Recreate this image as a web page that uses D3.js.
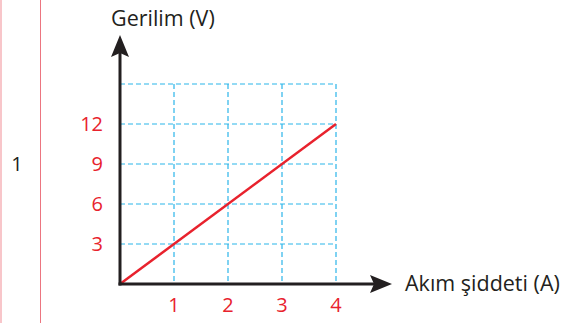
<!DOCTYPE html>
<html><head><meta charset="utf-8">
<script src="https://cdn.jsdelivr.net/npm/d3@7"></script>
<style>body{margin:0;background:#fff;}svg{display:block;font-family:"Open Sans",sans-serif;}</style>
</head><body>
<svg id="c" width="580" height="323"></svg>
<script>
const current = [0, 4];          // A
const voltage = [0, 12];         // V
const xTicks = [1, 2, 3, 4];
const yTicks = [3, 6, 9, 12];
const xGrid = [0, 1, 2, 3, 4];
const yGrid = [0, 3, 6, 9, 12, 15];
const xTitle = "Akım şiddeti (A)";
const yTitle = "Gerilim (V)";
const rowLabel = "1";

const svg = d3.select("#c");
const x = d3.scaleLinear().domain([0, 4]).range([120, 336]);
const y = d3.scaleLinear().domain([0, 15]).range([284, 84]);
const red = "#e8222d", blue = "#2bb5ea";

// page decoration
svg.append("line").attr("x1",1).attr("x2",1).attr("y1",0).attr("y2",323).attr("stroke","#f6b3b8").attr("stroke-width",1.5);
svg.append("line").attr("x1",40.5).attr("x2",40.5).attr("y1",0).attr("y2",323).attr("stroke","#ec7580").attr("stroke-width",1);
svg.append("text").attr("x",17).attr("y",164).attr("dy","0.36em").attr("text-anchor","middle").attr("font-size",20).attr("fill","#231f20").text(rowLabel);

// grid
const g = svg.append("g");
g.selectAll(".vg").data(xGrid).join("line")
  .attr("x1",d=>x(d)).attr("x2",d=>x(d)).attr("y1",y(15)).attr("y2",y(0))
  .attr("stroke",blue).attr("stroke-width",1.2).attr("stroke-dasharray","5,3");
g.selectAll(".hg").data(yGrid).join("line")
  .attr("y1",d=>y(d)).attr("y2",d=>y(d)).attr("x1",x(0)).attr("x2",x(4))
  .attr("stroke",blue).attr("stroke-width",1.2).attr("stroke-dasharray","5,3");

// data line
svg.append("path").datum(current.map((c,i)=>[c,voltage[i]]))
  .attr("d", d3.line().x(d=>x(d[0])).y(d=>y(d[1])))
  .attr("stroke",red).attr("stroke-width",2.5).attr("fill","none");

// axes
const ax = "#231f20";
svg.append("line").attr("x1",x(0)).attr("x2",x(0)).attr("y1",y(0)+1.5).attr("y2",50).attr("stroke",ax).attr("stroke-width",3);
svg.append("path").attr("d",`M${x(0)},35 L${x(0)+9},57 L${x(0)},53 L${x(0)-9},57 Z`).attr("fill",ax);
svg.append("line").attr("x1",x(0)-1.5).attr("x2",385).attr("y1",y(0)).attr("y2",y(0)).attr("stroke",ax).attr("stroke-width",3);
svg.append("path").attr("d",`M392,${y(0)} L370,${y(0)-9} L374,${y(0)} L370,${y(0)+9} Z`).attr("fill",ax);

// tick labels
svg.selectAll(".yl").data(yTicks).join("text")
  .attr("x",103).attr("y",d=>y(d)).attr("dy","0.36em").attr("text-anchor","end")
  .attr("font-size",20).attr("fill",red).text(d=>d);
svg.selectAll(".xl").data(xTicks).join("text")
  .attr("x",d=>x(d)).attr("y",305).attr("dy","0.36em").attr("text-anchor","middle")
  .attr("font-size",20).attr("fill",red).text(d=>d);

// titles
svg.append("text").attr("x",111).attr("y",26).attr("font-size",21.5).attr("fill",ax).text(yTitle);
svg.append("text").attr("x",405).attr("y",291).attr("font-size",21.5).attr("fill",ax).text(xTitle);
</script>
</body></html>
